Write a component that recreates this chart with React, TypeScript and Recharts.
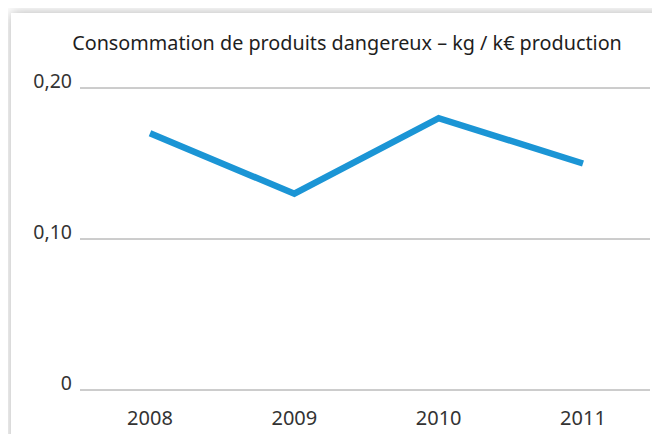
import { LineChart, Line, XAxis, YAxis, CartesianGrid } from 'recharts';

const years = ['2008', '2009', '2010', '2011'];
const consumption = [0.17, 0.13, 0.18, 0.15];
const yTicks = [0, 0.1, 0.2];

const data = years.map((year, i) => ({ year, value: consumption[i] }));

const FONT = '"Noto Sans", sans-serif';

const fmt = (v: number) => (v === 0 ? '0' : v.toFixed(2).replace('.', ','));

// y labels sit on the gridline (baseline at line level)
const YTick = (props: any) => {
  const { x, y, payload } = props;
  return (
    <text x={x} y={y} textAnchor="end" fill="#333" fontSize={19.5} fontFamily={FONT}>
      {fmt(payload.value)}
    </text>
  );
};

export default function App() {
  return (
    <div style={{ position: 'relative', width: 660, height: 442, overflow: 'hidden', margin: -8, background: '#fff' }}>
      <div
        style={{
          position: 'absolute',
          left: 11,
          top: 13,
          width: 680,
          height: 460,
          background: '#fff',
          boxShadow: '0 0 12px rgba(0,0,0,0.3)',
        }}
      />
      <div
        style={{
          position: 'absolute',
          left: 0,
          top: 29,
          width: 694,
          textAlign: 'center',
          fontFamily: FONT,
          fontSize: 19.8,
          lineHeight: 'normal',
          color: '#1e1e1e',
          whiteSpace: 'nowrap',
        }}
      >
        Consommation de produits dangereux – kg / k€ production
      </div>
      <div style={{ position: 'absolute', left: 0, top: 0 }}>
        <LineChart width={660} height={442} data={data} margin={{ top: 88, right: 10, bottom: 22, left: 0 }}>
          <CartesianGrid vertical={false} stroke="#9a9a9a" strokeWidth={1} />
          <XAxis
            dataKey="year"
            height={30}
            axisLine={false}
            tickLine={false}
            tickSize={0}
            tickMargin={21}
            padding={{ left: 70, right: 67 }}
            tick={{ fill: '#333', fontSize: 20, fontFamily: FONT }}
          />
          <YAxis
            width={80}
            domain={[0, 0.2]}
            ticks={yTicks}
            axisLine={false}
            tickLine={false}
            tickSize={0}
            tickMargin={8}
            tick={<YTick />}
          />
          <Line
            type="linear"
            dataKey="value"
            stroke="#1b95d5"
            strokeWidth={6.5}
            dot={false}
            isAnimationActive={false}
          />
        </LineChart>
      </div>
    </div>
  );
}
